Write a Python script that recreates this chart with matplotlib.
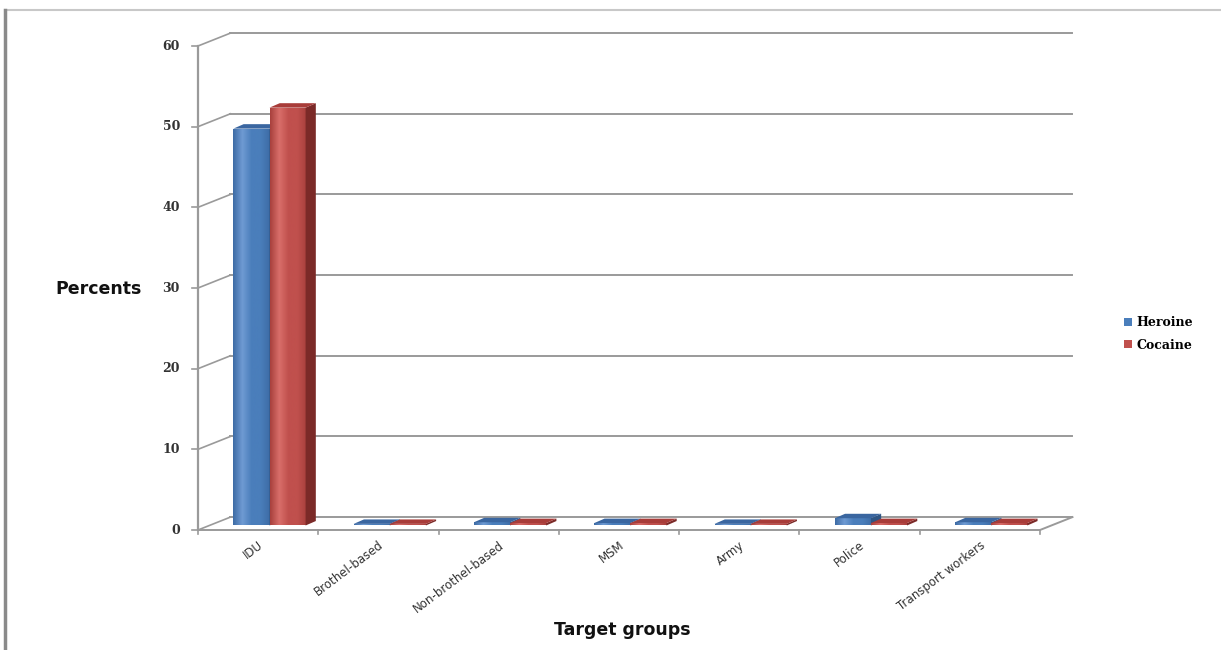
import matplotlib.pyplot as plt
from matplotlib.patches import Rectangle, Polygon
from matplotlib.lines import Line2D
from matplotlib.colors import LinearSegmentedColormap
import numpy as np

groups = ['IDU', 'Brothel-based', 'Non-brothel-based', 'MSM', 'Army', 'Police', 'Transport workers']
heroine = [49.2, 0.2, 0.4, 0.3, 0.2, 0.9, 0.4]
cocaine = [51.8, 0.2, 0.3, 0.3, 0.2, 0.3, 0.3]
yticks = [0, 10, 20, 30, 40, 50, 60]

# depth of the back wall, in data units (x in categories, y in percent)
DX, DY = 0.27, 1.6
# bars stand part way into the floor and have a thin depth of their own
BF = 0.35
BDX, BDY = 0.085, 0.55
BW = 0.3
GRID = '#9a9a9a'

fig = plt.figure(figsize=(12.21, 6.5), dpi=100)
ax = fig.add_axes([198 / 1221, 120 / 650, 842 / 1221, 484 / 650])
ax.set_xlim(0, 7)
ax.set_ylim(0, 60)
ax.axis('off')

n = len(groups)

# back wall gridlines and the diagonals on the left wall
for v in yticks:
    ax.add_line(Line2D([DX, n + DX], [v + DY, v + DY], color=GRID, lw=1.4, clip_on=False))
    ax.add_line(Line2D([0, DX], [v, v + DY], color=GRID, lw=1.2, clip_on=False))
    ax.add_line(Line2D([-0.05, 0], [v, v], color=GRID, lw=1.2, clip_on=False))
    ax.text(-0.15, v, str(v), ha='right', va='center', fontsize=9,
            fontweight='bold', family='DejaVu Serif', color='#333333')

# front axis and floor
ax.add_line(Line2D([0, 0], [0, 60], color=GRID, lw=1.6, clip_on=False))
ax.add_line(Line2D([0, n, n + DX], [0, 0, DY], color=GRID, lw=1.4, clip_on=False))
for i in range(n + 1):
    ax.add_line(Line2D([i, i], [0, -0.5], color=GRID, lw=1.2, clip_on=False))


def shade(base, light, dark):
    return LinearSegmentedColormap.from_list('s', [dark, light, base, base, dark])


def bar3d(x, h, front, light, dark, side, top):
    x0, y0 = x + BF * DX, BF * DY
    rect = Rectangle((x0, y0), BW, h, fc=front, ec='none', zorder=3)
    ax.add_patch(rect)
    grad = np.linspace(0, 1, 64).reshape(1, -1)
    im = ax.imshow(grad, cmap=shade(front, light, dark), aspect='auto',
                   extent=(x0, x0 + BW, y0, y0 + h), zorder=3)
    im.set_clip_path(rect)
    ax.add_patch(Polygon([(x0 + BW, y0), (x0 + BW + BDX, y0 + BDY),
                          (x0 + BW + BDX, y0 + h + BDY), (x0 + BW, y0 + h)],
                         fc=side, ec='none', zorder=3))
    ax.add_patch(Polygon([(x0, y0 + h), (x0 + BDX, y0 + h + BDY),
                          (x0 + BW + BDX, y0 + h + BDY), (x0 + BW, y0 + h)],
                         fc=top, ec='none', zorder=3))


for i in range(n):
    bar3d(i + 0.2, heroine[i], '#4a7ebb', '#6f9bd3', '#3e6ca6', '#2f5584', '#3a66a0')
    bar3d(i + 0.5, cocaine[i], '#c0504d', '#d96e6a', '#a8403d', '#7b2a28', '#a83c39')
    ax.text(i + 0.53, -1.7, groups[i], rotation=37, rotation_mode='anchor',
            ha='right', va='center', fontsize=8.5, color='#333333')

ax.set_xlim(0, 7)
ax.set_ylim(0, 60)

fig.text(99 / 1221, 1 - 289 / 650, 'Percents', ha='center', va='center',
         fontsize=12.5, fontweight='bold', color='#111111')
fig.text(622 / 1221, 1 - 630 / 650, 'Target groups', ha='center', va='center',
         fontsize=12.5, fontweight='bold', color='#111111')

handles = [Rectangle((0, 0), 1, 1, fc='#4a7ebb'), Rectangle((0, 0), 1, 1, fc='#c0504d')]
fig.legend(handles, ['Heroine', 'Cocaine'], loc='center left',
           bbox_to_anchor=(1113 / 1221, 1 - 334 / 650), frameon=False,
           handlelength=0.6, handleheight=0.6, handletextpad=0.4, labelspacing=0.75,
           prop={'family': 'DejaVu Serif', 'weight': 'bold', 'size': 9})

# outer frame of the chart area
fig.add_artist(Line2D([5 / 1221, 1], [1 - 10 / 650, 1 - 10 / 650],
                      transform=fig.transFigure, color='#c8c8c8', lw=1.5))
fig.add_artist(Line2D([5 / 1221, 5 / 1221], [0, 1 - 10 / 650],
                      transform=fig.transFigure, color='#8a8a8a', lw=2.5))

fig.savefig('out.png', dpi=100)
